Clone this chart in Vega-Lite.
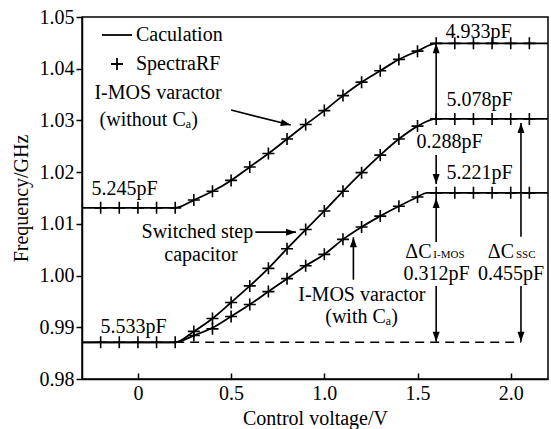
{
  "$schema": "https://vega.github.io/schema/vega-lite/v6.json",
  "width": 466,
  "height": 362,
  "autosize": {"type": "none"},
  "padding": {"left": 82, "top": 17, "right": 3, "bottom": 50},
  "background": "white",
  "config": {
    "view": {"stroke": "black", "strokeWidth": 1.5},
    "font": "Liberation Serif",
    "axis": {
      "grid": false,
      "domainColor": "black",
      "domainWidth": 1.5,
      "tickColor": "black",
      "tickWidth": 1.5,
      "labelColor": "black",
      "titleColor": "black",
      "labelFont": "Liberation Serif",
      "titleFont": "Liberation Serif",
      "labelFontSize": 20,
      "titleFontSize": 20,
      "titleFontWeight": "normal"
    },
    "legend": {
      "labelFont": "Liberation Serif",
      "labelFontSize": 20,
      "labelColor": "black"
    }
  },
  "datasets": {
    "calc": [
      {"s": "top", "x": -0.3, "y": 1.0131}, {"s": "top", "x": 0.2, "y": 1.0131},
      {"s": "top", "x": 0.3, "y": 1.0146}, {"s": "top", "x": 0.4, "y": 1.0163},
      {"s": "top", "x": 0.5, "y": 1.0184}, {"s": "top", "x": 0.6, "y": 1.021},
      {"s": "top", "x": 0.7, "y": 1.0236}, {"s": "top", "x": 0.8, "y": 1.0264},
      {"s": "top", "x": 0.9, "y": 1.0292}, {"s": "top", "x": 1.0, "y": 1.0319},
      {"s": "top", "x": 1.1, "y": 1.0348}, {"s": "top", "x": 1.2, "y": 1.0374},
      {"s": "top", "x": 1.3, "y": 1.0396}, {"s": "top", "x": 1.4, "y": 1.0418},
      {"s": "top", "x": 1.5, "y": 1.0434}, {"s": "top", "x": 1.6, "y": 1.0449},
      {"s": "top", "x": 2.2, "y": 1.0449},
      {"s": "mid", "x": -0.3, "y": 0.9871}, {"s": "mid", "x": 0.2, "y": 0.9871},
      {"s": "mid", "x": 0.3, "y": 0.9892}, {"s": "mid", "x": 0.4, "y": 0.9917},
      {"s": "mid", "x": 0.5, "y": 0.9948}, {"s": "mid", "x": 0.6, "y": 0.998},
      {"s": "mid", "x": 0.7, "y": 1.0014}, {"s": "mid", "x": 0.8, "y": 1.0052},
      {"s": "mid", "x": 0.9, "y": 1.0089}, {"s": "mid", "x": 1.0, "y": 1.0125},
      {"s": "mid", "x": 1.1, "y": 1.0163}, {"s": "mid", "x": 1.2, "y": 1.0199},
      {"s": "mid", "x": 1.3, "y": 1.0233}, {"s": "mid", "x": 1.4, "y": 1.0264},
      {"s": "mid", "x": 1.5, "y": 1.0289}, {"s": "mid", "x": 1.6, "y": 1.0303},
      {"s": "mid", "x": 2.2, "y": 1.0303},
      {"s": "bot", "x": -0.3, "y": 0.9871}, {"s": "bot", "x": 0.2, "y": 0.9871},
      {"s": "bot", "x": 0.3, "y": 0.9884}, {"s": "bot", "x": 0.4, "y": 0.9899},
      {"s": "bot", "x": 0.5, "y": 0.9921}, {"s": "bot", "x": 0.6, "y": 0.9944},
      {"s": "bot", "x": 0.7, "y": 0.9969}, {"s": "bot", "x": 0.8, "y": 0.9994},
      {"s": "bot", "x": 0.9, "y": 1.0019}, {"s": "bot", "x": 1.0, "y": 1.0041},
      {"s": "bot", "x": 1.1, "y": 1.007}, {"s": "bot", "x": 1.2, "y": 1.0094},
      {"s": "bot", "x": 1.3, "y": 1.0115}, {"s": "bot", "x": 1.4, "y": 1.0134},
      {"s": "bot", "x": 1.5, "y": 1.0152}, {"s": "bot", "x": 1.55, "y": 1.016},
      {"s": "bot", "x": 2.2, "y": 1.016}
    ],
    "rf": [
      {"s": "top", "x": -0.2, "y": 1.0131}, {"s": "top", "x": -0.1, "y": 1.0131},
      {"s": "top", "x": 0.0, "y": 1.0131}, {"s": "top", "x": 0.1, "y": 1.0131},
      {"s": "top", "x": 0.2, "y": 1.0131}, {"s": "top", "x": 0.3, "y": 1.0146},
      {"s": "top", "x": 0.4, "y": 1.0163}, {"s": "top", "x": 0.5, "y": 1.0184},
      {"s": "top", "x": 0.6, "y": 1.021}, {"s": "top", "x": 0.7, "y": 1.0236},
      {"s": "top", "x": 0.8, "y": 1.0264}, {"s": "top", "x": 0.9, "y": 1.0292},
      {"s": "top", "x": 1.0, "y": 1.0319}, {"s": "top", "x": 1.1, "y": 1.0348},
      {"s": "top", "x": 1.2, "y": 1.0374}, {"s": "top", "x": 1.3, "y": 1.0396},
      {"s": "top", "x": 1.4, "y": 1.0418}, {"s": "top", "x": 1.5, "y": 1.0434},
      {"s": "top", "x": 1.6, "y": 1.0449}, {"s": "top", "x": 1.7, "y": 1.0449},
      {"s": "top", "x": 1.8, "y": 1.0449}, {"s": "top", "x": 1.9, "y": 1.0449},
      {"s": "top", "x": 2.0, "y": 1.0449}, {"s": "top", "x": 2.1, "y": 1.0449},
      {"s": "mid", "x": -0.2, "y": 0.9871}, {"s": "mid", "x": -0.1, "y": 0.9871},
      {"s": "mid", "x": 0.0, "y": 0.9871}, {"s": "mid", "x": 0.1, "y": 0.9871},
      {"s": "mid", "x": 0.2, "y": 0.9871}, {"s": "mid", "x": 0.3, "y": 0.9892},
      {"s": "mid", "x": 0.4, "y": 0.9917}, {"s": "mid", "x": 0.5, "y": 0.9948},
      {"s": "mid", "x": 0.6, "y": 0.998}, {"s": "mid", "x": 0.7, "y": 1.0014},
      {"s": "mid", "x": 0.8, "y": 1.0052}, {"s": "mid", "x": 0.9, "y": 1.0089},
      {"s": "mid", "x": 1.0, "y": 1.0125}, {"s": "mid", "x": 1.1, "y": 1.0163},
      {"s": "mid", "x": 1.2, "y": 1.0199}, {"s": "mid", "x": 1.3, "y": 1.0233},
      {"s": "mid", "x": 1.4, "y": 1.0264}, {"s": "mid", "x": 1.5, "y": 1.0289},
      {"s": "mid", "x": 1.6, "y": 1.0303}, {"s": "mid", "x": 1.7, "y": 1.0303},
      {"s": "mid", "x": 1.8, "y": 1.0303}, {"s": "mid", "x": 1.9, "y": 1.0303},
      {"s": "mid", "x": 2.0, "y": 1.0303}, {"s": "mid", "x": 2.1, "y": 1.0303},
      {"s": "bot", "x": 0.3, "y": 0.9884}, {"s": "bot", "x": 0.4, "y": 0.9897},
      {"s": "bot", "x": 0.5, "y": 0.9921}, {"s": "bot", "x": 0.6, "y": 0.9944},
      {"s": "bot", "x": 0.7, "y": 0.9969}, {"s": "bot", "x": 0.8, "y": 0.9994},
      {"s": "bot", "x": 0.9, "y": 1.0019}, {"s": "bot", "x": 1.0, "y": 1.0041},
      {"s": "bot", "x": 1.1, "y": 1.007}, {"s": "bot", "x": 1.2, "y": 1.0094},
      {"s": "bot", "x": 1.3, "y": 1.0115}, {"s": "bot", "x": 1.4, "y": 1.0134},
      {"s": "bot", "x": 1.5, "y": 1.0152}, {"s": "bot", "x": 1.6, "y": 1.016},
      {"s": "bot", "x": 1.7, "y": 1.016}, {"s": "bot", "x": 1.8, "y": 1.016},
      {"s": "bot", "x": 1.9, "y": 1.016}, {"s": "bot", "x": 2.0, "y": 1.016},
      {"s": "bot", "x": 2.1, "y": 1.016}
    ],
    "dashed": [
      {"x": 0.2, "y": 0.9871}, {"x": 2.055, "y": 0.9871}
    ],
    "arrows": [
      {"x": 0.5, "y": 1.032, "x2": 0.82, "y2": 1.0291, "dir": "diag"},
      {"x": 0.63, "y": 1.0084, "x2": 0.848, "y2": 1.0084, "dir": "right"},
      {"x": 1.156, "y": 0.9992, "x2": 1.156, "y2": 1.0074, "dir": "up"},
      {"x": 1.6, "y": 1.0303, "x2": 1.6, "y2": 1.0449, "dir": "up"},
      {"x": 1.6, "y": 1.0233, "x2": 1.6, "y2": 1.0177, "dir": "down"},
      {"x": 1.6, "y": 1.0065, "x2": 1.6, "y2": 1.015, "dir": "up"},
      {"x": 1.6, "y": 0.998, "x2": 1.6, "y2": 0.9872, "dir": "down"},
      {"x": 2.055, "y": 1.0075, "x2": 2.055, "y2": 1.0295, "dir": "up"},
      {"x": 2.055, "y": 0.998, "x2": 2.055, "y2": 0.9872, "dir": "down"}
    ],
    "legendKeys": [
      {"k": "Caculation"}, {"k": "SpectraRF"}
    ],
    "labelsLeft": [
      {"x": -0.249, "y": 1.0167, "t": "5.245pF"},
      {"x": -0.201, "y": 0.9901, "t": "5.533pF"},
      {"x": 1.65, "y": 1.0471, "t": "4.933pF"},
      {"x": 1.655, "y": 1.034, "t": "5.078pF"},
      {"x": 1.495, "y": 1.0258, "t": "0.288pF"},
      {"x": 1.655, "y": 1.0198, "t": "5.221pF"}
    ],
    "labelsCenter": [
      {"x": 0.108, "y": 1.0353, "t": "I-MOS varactor"},
      {"x": 0.058, "y": 1.0301, "t": "(without Cₐ)"},
      {"x": 0.319, "y": 1.0084, "t": "Switched step"},
      {"x": 0.338, "y": 1.004, "t": "capacitor"},
      {"x": 1.2016, "y": 0.9962, "t": "I-MOS varactor"},
      {"x": 1.2, "y": 0.992, "t": "(with Cₐ)"},
      {"x": 1.6016, "y": 1.0003, "t": "0.312pF"},
      {"x": 2.0016, "y": 1.0003, "t": "0.455pF"}
    ],
    "labelsRight": [
      {"x": 1.575, "y": 1.0045, "t": "ΔC"},
      {"x": 2.018, "y": 1.0045, "t": "ΔC"}
    ],
    "subs": [
      {"x": 1.585, "y": 1.0039, "t": "I-MOS"},
      {"x": 2.028, "y": 1.0039, "t": "SSC"}
    ]
  },
  "encoding": {
    "x": {
      "field": "x", "type": "quantitative",
      "scale": {"domain": [-0.3, 2.2], "nice": false, "zero": false},
      "axis": {
        "title": "Control voltage/V",
        "values": [0, 0.5, 1, 1.5, 2],
        "labelExpr": "datum.value == 0 ? '0' : format(datum.value, '.1f')",
        "tickSize": -6,
        "labelPadding": 10,
        "titlePadding": 5,
        "titleColor": "black"
      }
    },
    "y": {
      "field": "y", "type": "quantitative",
      "scale": {"domain": [0.98, 1.05], "nice": false, "zero": false},
      "axis": {
        "title": "Frequency/GHz",
        "values": [0.98, 0.99, 1.0, 1.01, 1.02, 1.03, 1.04, 1.05],
        "format": ".2f",
        "tickSize": 6,
        "labelPadding": 2,
        "titlePadding": 8,
        "titleColor": "black"
      }
    }
  },
  "layer": [
    {
      "data": {"name": "calc"},
      "mark": {"type": "line", "color": "black", "strokeWidth": 1.8, "interpolate": "monotone", "clip": true},
      "encoding": {"detail": {"field": "s"}}
    },
    {
      "data": {"name": "dashed"},
      "mark": {"type": "line", "color": "black", "strokeWidth": 1.6, "strokeDash": [9, 6]},
      "encoding": {}
    },
    {
      "data": {"name": "rf"},
      "mark": {"type": "point", "shape": "M-1,0L1,0M0,-1L0,1", "filled": false, "color": "black", "strokeWidth": 1.6, "size": 144, "opacity": 1},
      "encoding": {"detail": {"field": "s"}}
    },
    {
      "data": {"name": "legendKeys"},
      "mark": {"type": "point", "opacity": 0, "filled": false, "color": "black"},
      "encoding": {
        "x": {"datum": -0.3, "type": "quantitative"},
        "y": {"datum": 1.05, "type": "quantitative"},
        "shape": {
          "field": "k", "type": "nominal",
          "scale": {"domain": ["Caculation", "SpectraRF"], "range": ["M-2.5,0L2.5,0", "M-1,0L1,0M0,-1L0,1"]},
          "legend": {
            "title": null,
            "orient": "none",
            "legendX": 25,
            "legendY": 8,
            "rowPadding": 9,
            "labelOffset": 9,
            "symbolSize": 144,
            "symbolStrokeColor": "black",
            "symbolStrokeWidth": 1.8,
            "symbolOpacity": 1,
            "symbolFillColor": "transparent"
          }
        }
      }
    },
    {
      "data": {"name": "arrows"},
      "mark": {"type": "rule", "color": "black", "strokeWidth": 1.6},
      "encoding": {
        "x2": {"field": "x2"},
        "y2": {"field": "y2"}
      }
    },
    {
      "data": {"name": "arrows"},
      "mark": {"type": "point", "shape": "M0,0L0.7,2L-0.7,2Z", "filled": true, "color": "black", "size": 100, "opacity": 1},
      "encoding": {
        "x": {"field": "x2", "type": "quantitative"},
        "y": {"field": "y2", "type": "quantitative"},
        "angle": {
          "field": "dir", "type": "nominal",
          "scale": {"type": "ordinal", "domain": ["up", "right", "diag", "down"], "range": [0, 90, 104, 180]},
          "legend": null
        }
      }
    },
    {
      "data": {"name": "labelsLeft"},
      "mark": {"type": "text", "align": "left", "baseline": "middle", "font": "Liberation Serif", "fontSize": 20, "color": "black"},
      "encoding": {"text": {"field": "t"}}
    },
    {
      "data": {"name": "labelsCenter"},
      "mark": {"type": "text", "align": "center", "baseline": "middle", "font": "Liberation Serif", "fontSize": 20, "color": "black"},
      "encoding": {"text": {"field": "t"}}
    },
    {
      "data": {"name": "labelsRight"},
      "mark": {"type": "text", "align": "right", "baseline": "middle", "font": "Liberation Serif", "fontSize": 20, "color": "black"},
      "encoding": {"text": {"field": "t"}}
    },
    {
      "data": {"name": "subs"},
      "mark": {"type": "text", "align": "left", "baseline": "middle", "font": "Liberation Serif", "fontSize": 11, "color": "black"},
      "encoding": {"text": {"field": "t"}}
    }
  ]
}
